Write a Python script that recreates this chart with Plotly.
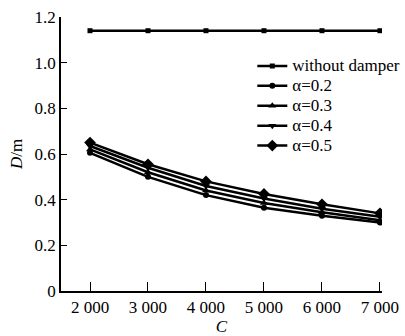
import plotly.graph_objects as go

C = [2000, 3000, 4000, 5000, 6000, 7000]
no_damper = [1.14, 1.14, 1.14, 1.14, 1.14, 1.14]
a02 = [0.605, 0.50, 0.42, 0.365, 0.33, 0.30]
a03 = [0.62, 0.52, 0.44, 0.385, 0.345, 0.31]
a04 = [0.635, 0.54, 0.46, 0.405, 0.36, 0.325]
a05 = [0.65, 0.555, 0.48, 0.425, 0.38, 0.34]
names = ["without damper", "α=0.2", "α=0.3", "α=0.4", "α=0.5"]
xticks = [2000, 3000, 4000, 5000, 6000, 7000]
xticklabels = ["2 000", "3 000", "4 000", "5 000", "6 000", "7 000"]
yticks = [0, 0.2, 0.4, 0.6, 0.8, 1.0, 1.2]
yticklabels = ["0", "0.2", "0.4", "0.6", "0.8", "1.0", "1.2"]

series = [no_damper, a02, a03, a04, a05]
symbols = ["square", "circle", "triangle-up", "triangle-down", "diamond"]
sizes = [5, 6, 7, 7, 9]

font = "Liberation Serif, Times New Roman, serif"
fig = go.Figure()
for name, ys, sym, sz in zip(names, series, symbols, sizes):
    fig.add_trace(go.Scatter(
        x=C, y=ys, name='<span style="font-size:17px">' + name + '</span>',
        mode="lines+markers",
        line=dict(color="black", width=2.5),
        marker=dict(symbol=sym, size=sz, color="black"),
    ))

fig.update_layout(
    width=405, height=336,
    margin=dict(l=61, r=23, t=17, b=45, autoexpand=False),
    paper_bgcolor="white", plot_bgcolor="white",
    font=dict(family=font, size=17, color="black"),
    showlegend=True,
    legend=dict(x=0.596, y=0.876, xanchor="left", yanchor="top",
                bgcolor="rgba(0,0,0,0)", font=dict(size=13, family=font),
                tracegroupgap=0, itemwidth=30),
    xaxis=dict(range=[1500, 7035], tickvals=xticks, ticktext=xticklabels,
               ticks="inside", ticklen=9, tickcolor="black", showline=True,
               linecolor="black", linewidth=1.5, showgrid=False, zeroline=False,
               tickfont=dict(size=17), automargin=False,
               title=dict(text="<i>C</i>", standoff=1, font=dict(size=17))),
    yaxis=dict(range=[0, 1.2], tickvals=yticks, ticktext=yticklabels,
               ticks="inside", ticklen=6, tickcolor="black", showline=True,
               linecolor="black", linewidth=1.5, showgrid=False, zeroline=False,
               tickfont=dict(size=17), automargin=False,
               title=dict(text="<i>D</i>/m", standoff=8, font=dict(size=17))),
)

fig.write_html("out.html")
